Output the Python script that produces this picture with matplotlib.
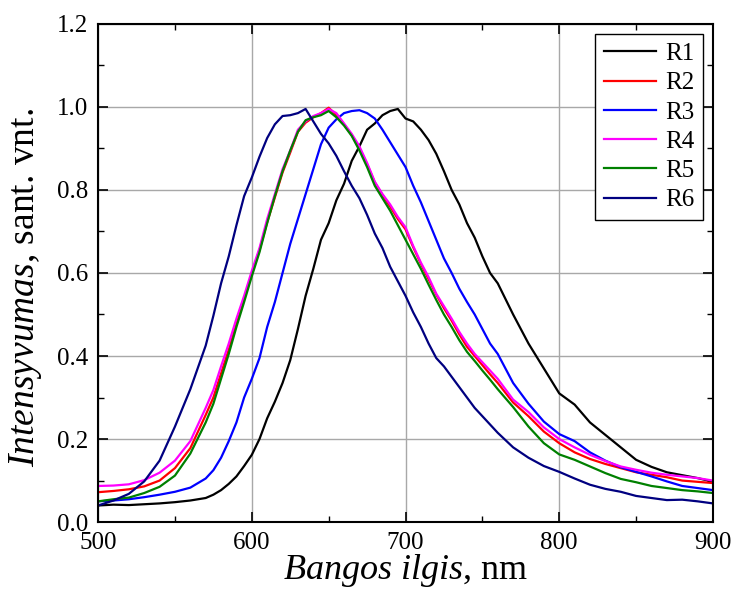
import matplotlib
matplotlib.use('Agg')
import matplotlib.pyplot as plt
from matplotlib.ticker import MultipleLocator, FormatStrFormatter

plt.rcParams['font.family'] = 'Liberation Serif'
plt.rcParams['mathtext.fontset'] = 'custom'
plt.rcParams['mathtext.rm'] = 'Liberation Serif'
plt.rcParams['mathtext.it'] = 'Liberation Serif:italic'

# wavelength grid, nm
wl = [500, 510, 520, 530, 540, 550, 560, 570, 575, 580, 585, 590, 595, 600, 605,
      610, 615, 620, 625, 630, 635, 640, 645, 650, 655, 660, 665, 670, 675, 680,
      685, 690, 695, 700, 705, 710, 715, 720, 725, 730, 735, 740, 745, 750, 755,
      760, 770, 780, 790, 800, 810, 820, 830, 840, 850, 860, 870, 880, 890, 900]

r1 = [0.040, 0.042, 0.041, 0.043, 0.045, 0.048, 0.052, 0.058, 0.066, 0.077, 0.092, 0.110, 0.135, 0.162, 0.200,
      0.250, 0.290, 0.335, 0.390, 0.465, 0.545, 0.610, 0.680, 0.720, 0.775, 0.815, 0.870, 0.905, 0.945, 0.960,
      0.980, 0.990, 0.995, 0.972, 0.965, 0.945, 0.920, 0.887, 0.845, 0.800, 0.765, 0.720, 0.685, 0.640, 0.600,
      0.575, 0.500, 0.430, 0.370, 0.310, 0.283, 0.240, 0.210, 0.180, 0.150, 0.133, 0.120, 0.113, 0.106, 0.097]

r2 = [0.072, 0.075, 0.079, 0.086, 0.100, 0.130, 0.178, 0.258, 0.300, 0.358, 0.415, 0.478, 0.538, 0.598, 0.655,
      0.722, 0.782, 0.842, 0.890, 0.940, 0.962, 0.975, 0.985, 0.998, 0.980, 0.958, 0.932, 0.900, 0.862, 0.818,
      0.788, 0.760, 0.730, 0.705, 0.662, 0.622, 0.585, 0.548, 0.515, 0.485, 0.452, 0.422, 0.400, 0.378, 0.356,
      0.335, 0.288, 0.255, 0.218, 0.190, 0.168, 0.152, 0.140, 0.130, 0.120, 0.114, 0.108, 0.100, 0.097, 0.094]

r3 = [0.050, 0.052, 0.055, 0.060, 0.066, 0.073, 0.083, 0.105, 0.125, 0.155, 0.195, 0.240, 0.300, 0.345, 0.395,
      0.470, 0.530, 0.600, 0.670, 0.730, 0.790, 0.850, 0.910, 0.950, 0.970, 0.985, 0.990, 0.992, 0.985, 0.972,
      0.945, 0.915, 0.885, 0.855, 0.810, 0.770, 0.725, 0.680, 0.635, 0.600, 0.562, 0.530, 0.500, 0.465, 0.430,
      0.405, 0.335, 0.285, 0.242, 0.212, 0.195, 0.168, 0.148, 0.132, 0.121, 0.110, 0.098, 0.087, 0.082, 0.077]

r4 = [0.087, 0.088, 0.091, 0.101, 0.119, 0.148, 0.195, 0.275, 0.318, 0.375, 0.430, 0.490, 0.545, 0.605, 0.660,
      0.730, 0.790, 0.850, 0.895, 0.945, 0.965, 0.978, 0.985, 0.995, 0.985, 0.960, 0.935, 0.905, 0.865, 0.820,
      0.790, 0.765, 0.735, 0.710, 0.665, 0.625, 0.590, 0.550, 0.520, 0.490, 0.458, 0.430, 0.405, 0.385, 0.365,
      0.345, 0.295, 0.265, 0.228, 0.200, 0.180, 0.162, 0.147, 0.134, 0.126, 0.119, 0.114, 0.110, 0.106, 0.100]

r5 = [0.050, 0.055, 0.059, 0.070, 0.085, 0.112, 0.165, 0.240, 0.285, 0.345, 0.405, 0.470, 0.530, 0.592, 0.650,
      0.720, 0.785, 0.845, 0.895, 0.940, 0.968, 0.975, 0.980, 0.990, 0.975, 0.955, 0.930, 0.895, 0.855, 0.810,
      0.780, 0.750, 0.715, 0.680, 0.645, 0.610, 0.572, 0.535, 0.500, 0.470, 0.438, 0.410, 0.388, 0.365, 0.343,
      0.320, 0.277, 0.230, 0.190, 0.163, 0.150, 0.134, 0.118, 0.104, 0.096, 0.087, 0.082, 0.077, 0.074, 0.070]

r6 = [0.040, 0.052, 0.068, 0.098, 0.148, 0.230, 0.320, 0.425, 0.497, 0.575, 0.640, 0.715, 0.785, 0.830, 0.880,
      0.925, 0.958, 0.978, 0.980, 0.985, 0.995, 0.965, 0.935, 0.912, 0.882, 0.845, 0.810, 0.780, 0.740, 0.695,
      0.660, 0.615, 0.580, 0.545, 0.505, 0.470, 0.430, 0.395, 0.375, 0.350, 0.325, 0.300, 0.275, 0.255, 0.235,
      0.215, 0.180, 0.155, 0.135, 0.121, 0.105, 0.090, 0.080, 0.073, 0.063, 0.058, 0.053, 0.054, 0.050, 0.045]

series = [r1, r2, r3, r4, r5, r6]
labels = ['R1', 'R2', 'R3', 'R4', 'R5', 'R6']
colors = ['black', '#ff0000', '#0000ff', '#ff00ff', '#008000', '#000080']

fig = plt.figure(figsize=(7.32, 5.96), dpi=100)
ax = fig.add_axes([0.134, 0.124, 0.840, 0.836])

for y, lab, c in zip(series, labels, colors):
    ax.plot(wl, y, color=c, lw=1.6, label=lab)

ax.set_xlim(500, 900)
ax.set_ylim(0, 1.2)
ax.xaxis.set_major_locator(MultipleLocator(100))
ax.xaxis.set_minor_locator(MultipleLocator(50))
ax.yaxis.set_major_locator(MultipleLocator(0.2))
ax.yaxis.set_minor_locator(MultipleLocator(0.1))
ax.yaxis.set_major_formatter(FormatStrFormatter('%.1f'))
ax.grid(True, which='major', color='#a8a8a8', lw=1.0)
ax.set_axisbelow(True)

ax.tick_params(which='both', direction='in', top=True, right=True, labelsize=18)
ax.tick_params(which='major', length=7, width=1.2, pad=7)
ax.tick_params(which='minor', length=4, width=1.0)
for s in ax.spines.values():
    s.set_linewidth(1.5)

ax.set_xlabel(r'$\mathit{Bangos\ ilgis}$, nm', fontsize=26)
ax.set_ylabel(r'$\mathit{Intensyvumas}$, sant. vnt.', fontsize=27)
ax.xaxis.set_label_coords(0.5, -0.060)
ax.yaxis.set_label_coords(-0.088, 0.47)

leg = ax.legend(loc='upper right', fontsize=18, frameon=True, fancybox=False,
                edgecolor='black', framealpha=1, handlelength=2.1,
                handletextpad=0.35, labelspacing=0.27, borderaxespad=0.4,
                borderpad=0.35)
leg.get_frame().set_linewidth(1.0)

fig.savefig('out.png', dpi=100)
